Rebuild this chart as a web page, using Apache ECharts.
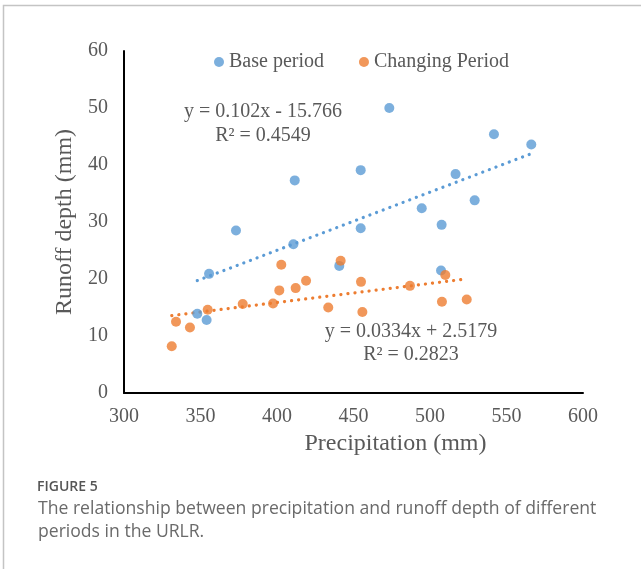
<!DOCTYPE html>
<html>
<head>
<meta charset="utf-8">
<script src="https://cdn.jsdelivr.net/npm/echarts@6/dist/echarts.min.js"></script>
<style>
  html, body { margin: 0; padding: 0; background: #fff; }
  #chart { width: 641px; height: 569px; }
</style>
</head>
<body>
<div id="chart"></div>
<script>
// precipitation (mm) / runoff depth (mm), base period
const basePrecip = [347.9, 354.0, 355.6, 373.2, 410.7, 411.6, 440.7, 454.7, 454.7, 473.4, 494.6, 507.2, 507.6, 516.7, 529.2, 541.8, 566.2]
const baseRunoff = [13.9, 12.8, 20.9, 28.5, 26.1, 37.3, 22.3, 28.9, 39.1, 50.0, 32.4, 21.5, 29.5, 38.4, 33.8, 45.4, 43.6]
// changing period
const changePrecip = [331.2, 334.0, 343.1, 354.7, 377.6, 397.4, 401.5, 402.8, 412.2, 419.0, 433.5, 441.6, 454.9, 455.8, 486.9, 507.8, 510.0, 524.0]
const changeRunoff = [8.2, 12.5, 11.5, 14.6, 15.6, 15.7, 18.0, 22.5, 18.4, 19.7, 15.0, 23.2, 19.5, 14.2, 18.8, 16.0, 20.7, 16.4]
// linear trend coefficients shown on the chart
const baseFit = { slope: 0.102, intercept: -15.766, r2: '0.4549' }
const changeFit = { slope: 0.0334, intercept: 2.5179, r2: '0.2823' }
const xTicks = { min: 300, max: 600, step: 50 }
const yTicks = { min: 0, max: 60, step: 10 }

const blue = '#5B9BD5'
const orange = '#ED7D31'
const textGray = '#595959'
const serif = '"Liberation Serif", "Times New Roman", serif'

function pairs(xs, ys) {
  return xs.map((x, i) => [x, ys[i]])
}
// trend line drawn between the smallest and largest x of the series
function trend(xs, fit) {
  const lo = Math.min(...xs)
  const hi = Math.max(...xs)
  return [[lo, fit.slope * lo + fit.intercept], [hi, fit.slope * hi + fit.intercept]]
}

const myChart = echarts.init(document.getElementById('chart'))
const option = {
  animation: false,
  grid: { left: 124, right: 58, top: 51, bottom: 176 },
  legend: {
    left: 209,
    top: 47,
    itemWidth: 10,
    itemHeight: 10,
    itemGap: 35,
    textStyle: { fontFamily: serif, fontSize: 20, color: textGray },
    data: [
      { name: 'Base period', icon: 'circle' },
      { name: 'Changing Period', icon: 'circle' },
    ],
  },
  xAxis: {
    type: 'value',
    min: xTicks.min,
    max: xTicks.max,
    interval: xTicks.step,
    name: 'Precipitation (mm)',
    nameLocation: 'middle',
    nameGap: 34,
    nameTextStyle: { fontFamily: serif, fontSize: 24, color: textGray, padding: [0, 0, 0, 84] },
    axisLine: { lineStyle: { color: '#000', width: 2 } },
    axisTick: { show: false },
    splitLine: { show: false },
    axisLabel: { fontFamily: serif, fontSize: 20, color: textGray, margin: 14 },
  },
  yAxis: {
    type: 'value',
    min: yTicks.min,
    max: yTicks.max,
    interval: yTicks.step,
    name: 'Runoff depth (mm)',
    nameLocation: 'middle',
    nameGap: 44,
    nameTextStyle: { fontFamily: serif, fontSize: 24, color: textGray },
    axisLine: { show: true, lineStyle: { color: '#000', width: 2 } },
    axisTick: { show: false },
    splitLine: { show: false },
    axisLabel: { fontFamily: serif, fontSize: 20, color: textGray, margin: 16 },
  },
  graphic: [
    {
      type: 'rect',
      shape: { x: 3.5, y: 5.5, width: 700, height: 700 },
      style: { fill: 'none', stroke: '#c4c4c4', lineWidth: 1.5 },
      silent: true,
    },
    {
      type: 'text', x: 263, y: 100,
      style: {
        text: 'y = ' + baseFit.slope + 'x - ' + Math.abs(baseFit.intercept) + '\nR² = ' + baseFit.r2,
        font: '20px ' + serif, fill: textGray, align: 'center', lineHeight: 24,
      },
    },
    {
      type: 'text', x: 411, y: 320,
      style: {
        text: 'y = ' + changeFit.slope + 'x + ' + changeFit.intercept + '\nR² = ' + changeFit.r2,
        font: '20px ' + serif, fill: textGray, align: 'center', lineHeight: 23,
      },
    },
    {
      type: 'text', left: 37, top: 480,
      style: { text: 'FIGURE 5', font: '600 14px "Open Sans", sans-serif', fill: '#555' },
    },
    {
      type: 'text', left: 38, top: 497,
      style: {
        text: 'The relationship between precipitation and runoff depth of different\nperiods in the URLR.',
        font: '17.6px "Open Sans", sans-serif', fill: '#6a6a6a', lineHeight: 23,
      },
    },
  ],
  series: [
    {
      name: 'Base period',
      type: 'scatter',
      symbolSize: 10,
      itemStyle: { color: blue },
      data: pairs(basePrecip, baseRunoff),
      z: 3,
    },
    {
      name: 'Changing Period',
      type: 'scatter',
      symbolSize: 10,
      itemStyle: { color: orange },
      data: pairs(changePrecip, changeRunoff),
      z: 4,
    },
    {
      name: 'base trend',
      type: 'line',
      symbol: 'none',
      silent: true,
      lineStyle: { color: blue, width: 3.2, type: [0.1, 7], cap: 'round' },
      data: trend(basePrecip, baseFit),
      z: 2,
    },
    {
      name: 'change trend',
      type: 'line',
      symbol: 'none',
      silent: true,
      lineStyle: { color: orange, width: 3.2, type: [0.1, 7], cap: 'round' },
      data: trend(changePrecip, changeFit),
      z: 2,
    },
  ],
}
myChart.setOption(option)
</script>
</body>
</html>
